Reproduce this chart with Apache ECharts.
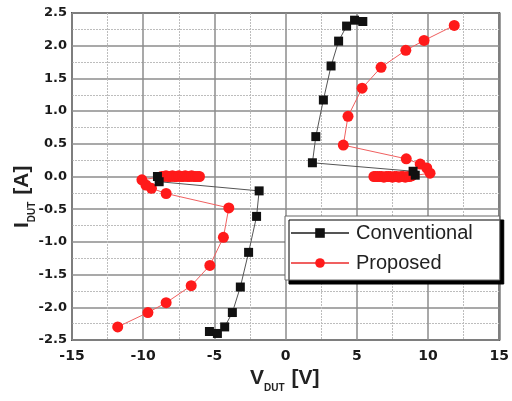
<!DOCTYPE html>
<html><head><meta charset="utf-8">
<script src="https://cdn.jsdelivr.net/npm/echarts@6/dist/echarts.min.js"></script>
<style>html,body{margin:0;padding:0;background:#fff}#c{width:512px;height:401px}</style>
</head><body><div id="c"></div>
<script>
// Conventional: two branches (negative then positive)
const convNegV = [-5.35, -4.79, -4.28, -3.74, -3.18, -2.60, -2.04, -1.86, -8.88, -9.0];
const convNegI = [-2.37, -2.40, -2.30, -2.08, -1.69, -1.16, -0.61, -0.22, -0.08, 0.0];
const convPosV = [5.42, 4.84, 4.28, 3.72, 3.19, 2.65, 2.12, 1.88, 8.95, 9.1];
const convPosI = [2.37, 2.39, 2.30, 2.07, 1.69, 1.17, 0.61, 0.21, 0.08, 0.02];
// Proposed
const propNegV = [-11.79, -9.67, -8.39, -6.63, -5.32, -4.37, -3.99, -8.39, -9.42, -9.81, -10.09,
  -8.85, -8.7, -8.55, -8.4, -8.25, -8.1, -7.95, -7.8, -7.65, -7.5, -7.35, -7.2, -7.05, -6.9, -6.75, -6.6, -6.45, -6.3, -6.15, -6.05];
const propNegI = [-2.30, -2.08, -1.93, -1.67, -1.36, -0.93, -0.48, -0.26, -0.18, -0.13, -0.05,
  -0.01, 0.0, 0.0, 0.01, 0.0, 0.0, 0.01, 0.0, 0.0, 0.01, 0.0, 0.0, 0.01, 0.0, 0.0, 0.01, 0.0, 0.0, 0.0, 0.0];
const propPosV = [11.84, 9.72, 8.44, 6.70, 5.37, 4.38, 4.05, 8.47, 9.45, 9.91, 10.14,
  8.85, 8.7, 8.55, 8.4, 8.25, 8.1, 7.95, 7.8, 7.65, 7.5, 7.35, 7.2, 7.05, 6.9, 6.75, 6.6, 6.45, 6.3, 6.2];
const propPosI = [2.31, 2.08, 1.93, 1.67, 1.35, 0.92, 0.48, 0.27, 0.19, 0.13, 0.05,
  0.01, 0.0, 0.0, -0.01, 0.0, 0.0, -0.01, 0.0, 0.0, -0.01, 0.0, 0.0, 0.0, -0.01, 0.0, 0.0, 0.0, 0.0, 0.0];
const seriesNames = ['Conventional', 'Proposed'];
const xTicks = {min: -15, max: 15, interval: 5};
const yTicks = {min: -2.5, max: 2.5, interval: 0.5};

function pts(vs, is) { return vs.map((v, k) => [v, is[k]]); }
const gap = [['-', '-']];
const convData = pts(convNegV, convNegI).concat(gap, pts(convPosV, convPosI));
const propData = pts(propNegV, propNegI).concat(gap, pts(propPosV, propPosI));

const chart = echarts.init(document.getElementById('c'), null, {renderer: 'canvas'});
const tickFont = {fontFamily: 'DejaVu Sans', fontWeight: 'bold', color: '#1a1a1a'};
chart.setOption({
  animation: false,
  grid: {left: 72, right: 10, top: 13, bottom: 61, show: true, borderColor: '#555', borderWidth: 2, backgroundColor: '#fff'},
  xAxis: {
    type: 'value', min: xTicks.min, max: xTicks.max, interval: xTicks.interval,
    axisLine: {show: false}, axisTick: {show: false},
    axisLabel: Object.assign({fontSize: 14, margin: 9}, tickFont),
    splitLine: {lineStyle: {color: '#8c8c8c', width: 1.5}},
    minorTick: {show: false, splitNumber: 2},
    minorSplitLine: {show: true, lineStyle: {color: '#bdbdbd', type: [2, 1], width: 1}}
  },
  yAxis: {
    type: 'value', min: yTicks.min, max: yTicks.max, interval: yTicks.interval,
    axisLine: {show: false}, axisTick: {show: false},
    axisLabel: Object.assign({fontSize: 13, margin: 5, formatter: v => v.toFixed(1)}, tickFont),
    splitLine: {lineStyle: {color: '#8c8c8c', width: 1.5}},
    minorTick: {show: false, splitNumber: 2},
    minorSplitLine: {show: true, lineStyle: {color: '#bdbdbd', type: [2, 1], width: 1}}
  },
  legend: {
    orient: 'vertical', left: 285, top: 216, width: 200,
    padding: [7, 27, 7, 5], itemGap: 10, itemWidth: 58, itemHeight: 12,
    backgroundColor: '#fff', borderColor: '#666', borderWidth: 1,
    shadowColor: '#000', shadowBlur: 0, shadowOffsetX: 4, shadowOffsetY: 4,
    textStyle: {fontFamily: 'Liberation Sans', fontSize: 20, color: '#222', padding: [0, 0, 0, 2]},
    data: seriesNames
  },
  series: [
    {name: seriesNames[0], type: 'line', data: convData, connectNulls: false,
     symbol: 'rect', symbolSize: 9, itemStyle: {color: '#111'},
     lineStyle: {color: '#555', width: 1}, z: 3},
    {name: seriesNames[1], type: 'line', data: propData, connectNulls: false,
     symbol: 'circle', symbolSize: 11, itemStyle: {color: '#ff1a1a'},
     lineStyle: {color: '#f06060', width: 1}, z: 2}
  ],
  graphic: [
    {type: 'text', left: 250, top: 368, z: 10,
     style: {text: '{a|V}{b|DUT}{a| [V]}', rich: {
       a: {fontFamily: 'Liberation Sans', fontWeight: 'bold', fontSize: 21, fill: '#222', lineHeight: 26, verticalAlign: 'bottom'},
       b: {fontFamily: 'Liberation Sans', fontWeight: 'bold', fontSize: 10, fill: '#222', lineHeight: 26, verticalAlign: 'bottom', padding: [0, 1, -4, 0]}
     }}},
    {type: 'text', x: 7, y: 228, rotation: Math.PI / 2, z: 10,
     style: {text: '{a|I}{b|DUT}{a| [A]}', rich: {
       a: {fontFamily: 'Liberation Sans', fontWeight: 'bold', fontSize: 21, fill: '#222', lineHeight: 26, verticalAlign: 'bottom'},
       b: {fontFamily: 'Liberation Sans', fontWeight: 'bold', fontSize: 10, fill: '#222', lineHeight: 26, verticalAlign: 'bottom', padding: [0, 1, -4, 0]}
     }}}
  ]
});
</script></body></html>
